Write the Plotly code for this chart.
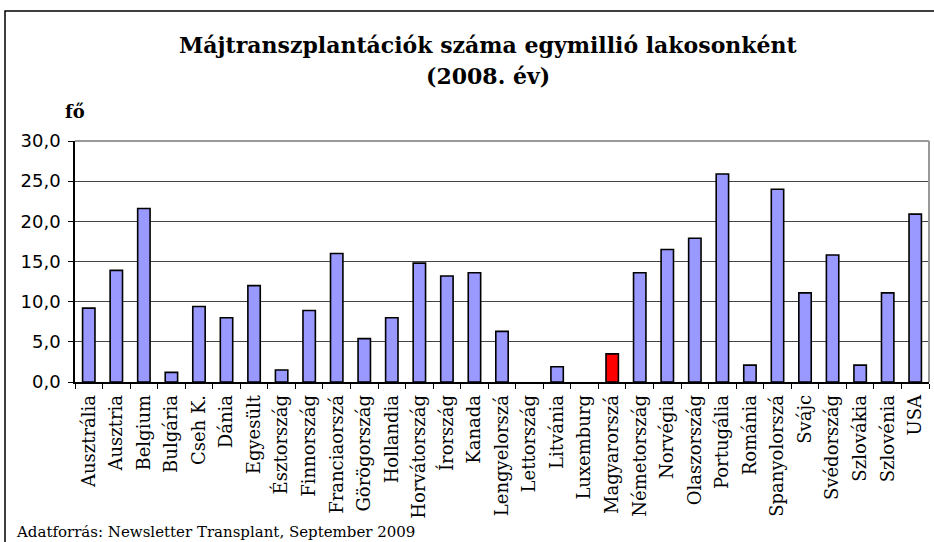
import plotly.graph_objects as go

countries = ["Ausztrália", "Ausztria", "Belgium", "Bulgária", "Cseh K.", "Dánia", "Egyesült",
             "Észtország", "Finnország", "Franciaorszá", "Görögország", "Hollandia", "Horvátország",
             "Írország", "Kanada", "Lengyelorszá", "Lettország", "Litvánia", "Luxemburg",
             "Magyarorszá", "Németország", "Norvégia", "Olaszország", "Portugália", "Románia",
             "Spanyolorszá", "Svájc", "Svédország", "Szlovákia", "Szlovénia", "USA"]
values = [9.2, 13.9, 21.6, 1.2, 9.4, 8.0, 12.0,
          1.5, 8.9, 16.0, 5.4, 8.0, 14.8,
          13.2, 13.6, 6.3, 0.0, 1.9, 0.0,
          3.5, 13.6, 16.5, 17.9, 25.9, 2.1,
          24.0, 11.1, 15.8, 2.1, 11.1, 20.9]
highlight = "Magyarorszá"
y_ticks = [0, 5, 10, 15, 20, 25, 30]

title_line1 = "Májtranszplantációk száma egymillió lakosonként"
title_line2 = "(2008. év)"
unit_label = "fő"
source_text = "Adatforrás: Newsletter Transplant, September 2009"

W, H = 934, 542
ML, MR, MT, MB = 75, 5, 141, 160
PW, PH = W - ML - MR, H - MT - MB

def px(x):
    return (x - ML) / PW

def py(y):
    return (H - MB - y) / PH

colors = ["#FF0000" if c == highlight else "#9999FF" for c in countries]
line_w = [1.6 if v > 0 else 0 for v in values]

fig = go.Figure()
fig.add_trace(go.Bar(
    x=countries, y=values, width=0.45,
    marker=dict(color=colors, line=dict(color="black", width=line_w)),
    hoverinfo="x+y"
))

serif = "DejaVu Serif"
fig.update_layout(
    width=W, height=H,
    margin=dict(l=ML, r=MR, t=MT, b=MB, autoexpand=False),
    paper_bgcolor="white", plot_bgcolor="white",
    separators=", ",
    showlegend=False,
    xaxis=dict(
        type="category", range=[-0.5, len(countries) - 0.5],
        showline=True, linecolor="black", linewidth=1.5,
        ticks="outside", tickson="boundaries", ticklen=5, tickcolor="black", tickwidth=1,
        tickangle=-90, tickfont=dict(family=serif, size=18, color="black"),
        ticklabelstandoff=4,
        showgrid=False,
    ),
    yaxis=dict(
        range=[0, 30], tickvals=y_ticks, tickformat=".1f",
        showline=True, linecolor="black", linewidth=1.5,
        ticks="outside", ticklen=5, tickcolor="black",
        tickfont=dict(family="DejaVu Sans", size=18, color="black"),
        ticklabelstandoff=4,
        showgrid=True, gridcolor="#444444", gridwidth=1,
        zeroline=False,
    ),
    shapes=[
        dict(type="line", xref="paper", yref="paper", x0=0, x1=1, y0=1, y1=1,
             line=dict(color="#999999", width=2), layer="above"),
        dict(type="line", xref="paper", yref="paper", x0=1, x1=1, y0=0, y1=1,
             line=dict(color="#999999", width=2), layer="above"),
        dict(type="rect", xref="paper", yref="paper",
             x0=px(5), x1=px(945), y0=py(11), y1=py(560),
             line=dict(color="black", width=1.5)),
    ],
    annotations=[
        dict(text="<b>" + title_line1 + "</b>", xref="paper", yref="paper",
             x=px(488), y=py(45), showarrow=False, xanchor="center", yanchor="middle",
             font=dict(family=serif, size=22, color="black")),
        dict(text="<b>" + title_line2 + "</b>", xref="paper", yref="paper",
             x=px(488), y=py(76), showarrow=False, xanchor="center", yanchor="middle",
             font=dict(family=serif, size=22, color="black")),
        dict(text="<b>" + unit_label + "</b>", xref="paper", yref="paper",
             x=px(75), y=py(111), showarrow=False, xanchor="center", yanchor="middle",
             font=dict(family=serif, size=18, color="black")),
        dict(text=source_text, xref="paper", yref="paper",
             x=px(14), y=py(532), showarrow=False, xanchor="left", yanchor="middle",
             font=dict(family=serif, size=15, color="black")),
    ],
)

fig.write_html("out.html", config={"displayModeBar": False},
               post_script="document.body.style.margin='0';document.body.style.overflow='hidden';")
